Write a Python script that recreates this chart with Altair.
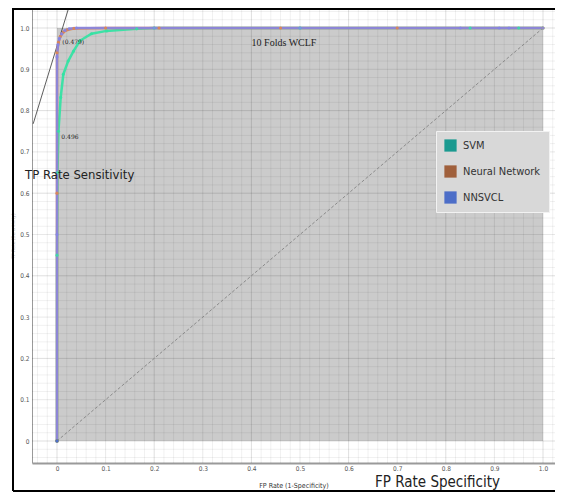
import altair as alt
import numpy as np
import pandas as pd

# ---- data ----
svm_fpr = [0, 0, 0.001, 0.003, 0.0076, 0.013, 0.023, 0.034, 0.047, 0.071, 0.102, 0.164, 0.2, 0.5, 0.85, 0.95, 1.0]
svm_tpr = [0, 0.45, 0.65, 0.75, 0.832, 0.888, 0.92, 0.944, 0.969, 0.986, 0.993, 0.998, 1.0, 1.0, 1.0, 1.0, 1.0]
nn_fpr = [0, 0, 0, 0.003, 0.007, 0.013, 0.022, 0.035, 0.1, 0.21, 0.46, 0.7, 1.0]
nn_tpr = [0, 0.6, 0.94, 0.965, 0.98, 0.99, 0.996, 0.999, 1.0, 1.0, 1.0, 1.0, 1.0]
nns_fpr = [0, 0, 0, 0.002, 0.005, 0.01, 0.016, 0.025, 0.04, 0.2, 0.5, 0.83, 0.91, 0.93, 1.0]
nns_tpr = [0, 0.5, 0.93, 0.96, 0.975, 0.986, 0.994, 0.998, 1.0, 1.0, 1.0, 1.0, 1.0, 1.0, 1.0]
models = ["SVM", "Neural Network", "NNSVCL"]
curve_colors = ["#2fe3a2", "#e8843e", "#8585e6"]
legend_colors = ["#1a9a90", "#a0603c", "#4d6ec8"]
tick_values = [0, 0.1, 0.2, 0.3, 0.4, 0.5, 0.6, 0.7, 0.8, 0.9, 1.0]
note_labels = ["(0.479)", "0.496"]
note_x = [0.011, 0.009]
note_y = [0.965, 0.735]

rows = []
for name, fx, fy in [("SVM", svm_fpr, svm_tpr), ("Neural Network", nn_fpr, nn_tpr), ("NNSVCL", nns_fpr, nns_tpr)]:
    for i, (a, b) in enumerate(zip(fx, fy)):
        rows.append({"model": name, "fpr": a, "tpr": b, "i": i})
df = pd.DataFrame(rows)

W, H = 523, 455
xdom = [-25 / 486, (W - 25) / 486]
ydom = [-22 / 413, 1 + 20 / 413]
xs = alt.Scale(domain=xdom, nice=False, zero=False)
ys = alt.Scale(domain=ydom, nice=False, zero=False)

label_font = "DejaVu Sans Condensed, Roboto, sans-serif"

# gray region
region = alt.Chart(pd.DataFrame({"x": [0], "x2": [1], "y": [0], "y2": [1]})).mark_rect(
    color="#cbcbcb"
).encode(
    x=alt.X("x:Q", scale=xs, axis=alt.Axis(
        values=tick_values, title="FP Rate (1-Specificity)", grid=False, ticks=False,
        labelExpr="datum.value == 0 ? '0' : format(datum.value, '.1f')",
        labelFontSize=6.5, labelColor="#555", labelFont=label_font, labelPadding=2,
        titleFontSize=7, titleFont=label_font, titleColor="#333", titleFontWeight="normal",
        titlePadding=10, domainColor="#9a9a9a", domainWidth=2)),
    x2="x2:Q",
    y=alt.Y("y:Q", scale=ys, axis=alt.Axis(
        values=tick_values, title="TP Rate (Sensitivity)", grid=False, ticks=False,
        labelExpr="datum.value == 0 ? '0' : format(datum.value, '.1f')",
        labelFontSize=6.5, labelColor="#555", labelFont=label_font, labelPadding=3,
        titleFontSize=5, titleFont=label_font, titleColor="#bbbbbb", titleFontWeight="normal",
        titlePadding=4, domainColor="#9a9a9a", domainWidth=1)),
    y2="y2:Q",
)

# background grid
gx = np.round(np.arange(-0.04, 1.03, 0.02), 3)
gy = np.round(np.arange(-0.04, 1.05, 0.02), 3)
def gw(v):
    if abs(v * 5 - round(v * 5)) < 1e-6:
        return 0.13
    if abs(v * 10 - round(v * 10)) < 1e-6:
        return 0.09
    return 0.06
vg = pd.DataFrame({"v": gx, "o": [gw(v) for v in gx]})
hg = pd.DataFrame({"v": gy, "o": [gw(v) for v in gy]})
vgrid = alt.Chart(vg).mark_rule(color="black", strokeWidth=1).encode(
    x=alt.X("v:Q", scale=xs), opacity=alt.Opacity("o:Q", scale=None))
hgrid = alt.Chart(hg).mark_rule(color="black", strokeWidth=1).encode(
    y=alt.Y("v:Q", scale=ys), opacity=alt.Opacity("o:Q", scale=None))

# diagonal reference
diag = alt.Chart(pd.DataFrame({"x": [0], "y": [0], "x2": [1], "y2": [1]})).mark_rule(
    color="#8a8a8a", strokeDash=[3, 2], strokeWidth=1
).encode(x=alt.X("x:Q", scale=xs), y=alt.Y("y:Q", scale=ys), x2="x2:Q", y2="y2:Q")

# tangent line
tang = alt.Chart(pd.DataFrame({"x": [-0.049], "y": [0.768], "x2": [0.027], "y2": [1.06]})).mark_rule(
    color="#333", strokeWidth=0.8, clip=True
).encode(x=alt.X("x:Q", scale=xs), y=alt.Y("y:Q", scale=ys), x2="x2:Q", y2="y2:Q")

lines = alt.Chart(df).mark_line(strokeWidth=2.5, opacity=0.9).encode(
    x=alt.X("fpr:Q", scale=xs),
    y=alt.Y("tpr:Q", scale=ys),
    stroke=alt.Stroke("model:N", scale=alt.Scale(domain=models, range=curve_colors), legend=None),
    order="i:Q",
)
markers = alt.Chart(df).mark_circle(size=10, opacity=0.8).encode(
    x=alt.X("fpr:Q", scale=xs),
    y=alt.Y("tpr:Q", scale=ys),
    fill=alt.Fill("model:N", scale=alt.Scale(domain=models, range=curve_colors), legend=None),
)
legend_layer = alt.Chart(df[df["i"] == 0]).mark_point(shape="square", filled=True, size=6, opacity=1).encode(
    x=alt.X("fpr:Q", scale=xs),
    y=alt.Y("tpr:Q", scale=ys),
    color=alt.Color("model:N", scale=alt.Scale(domain=models, range=legend_colors),
                    legend=alt.Legend(title=None, orient="none", legendX=404, legendY=123,
                                      symbolType="square", symbolSize=150, symbolStrokeWidth=0,
                                      labelFont=label_font, labelFontSize=11, labelColor="#333",
                                      fillColor="#d8d8d8", strokeColor="#f2f2f2", padding=8,
                                      rowPadding=13, labelOffset=6, cornerRadius=0)),
)

notes = alt.Chart(pd.DataFrame({"t": note_labels, "x": note_x, "y": note_y})).mark_text(
    align="left", fontSize=6, font="DejaVu Serif", color="#222"
).encode(x=alt.X("x:Q", scale=xs), y=alt.Y("y:Q", scale=ys), text="t:N")

t1 = alt.Chart(pd.DataFrame({"t": ["TP Rate Sensitivity"]})).mark_text(
    align="left", baseline="alphabetic", fontSize=13, font=label_font, color="#222"
).encode(x=alt.value(-7), y=alt.value(171), text="t:N")
t2 = alt.Chart(pd.DataFrame({"t": ["FP Rate Specificity"]})).mark_text(
    align="left", baseline="alphabetic", fontSize=15, font=label_font, color="#222"
).encode(x=alt.value(343), y=alt.value(479), text="t:N")
t3 = alt.Chart(pd.DataFrame({"t": ["10 Folds WCLF"]})).mark_text(
    align="center", baseline="middle", fontSize=10, font="Liberation Serif", color="#222"
).encode(x=alt.value(252), y=alt.value(35), text="t:N")

# outer frame
frame_l = alt.Chart(pd.DataFrame({"a": [0]})).mark_rule(color="black", strokeWidth=2).encode(
    x=alt.value(-19), y=alt.value(0), y2=alt.value(483))
frame_t = alt.Chart(pd.DataFrame({"a": [0]})).mark_rule(color="black", strokeWidth=2).encode(
    x=alt.value(-19), x2=alt.value(W), y=alt.value(1))
frame_b = alt.Chart(pd.DataFrame({"a": [0]})).mark_rule(color="black", strokeWidth=2).encode(
    x=alt.value(-19), x2=alt.value(W), y=alt.value(483))

chart = alt.layer(
    region, vgrid, hgrid, diag, tang, lines, markers, legend_layer, notes, t1, t2, t3,
    frame_l, frame_t, frame_b
).properties(
    width=W, height=H,
    autosize=alt.AutoSizeParams(type="none"),
    padding={"left": 24, "top": 0, "right": 0, "bottom": 30},
).configure_view(stroke=None).resolve_scale(color="independent")

chart.save("out.html", embed_options={"renderer": "svg", "actions": False})
